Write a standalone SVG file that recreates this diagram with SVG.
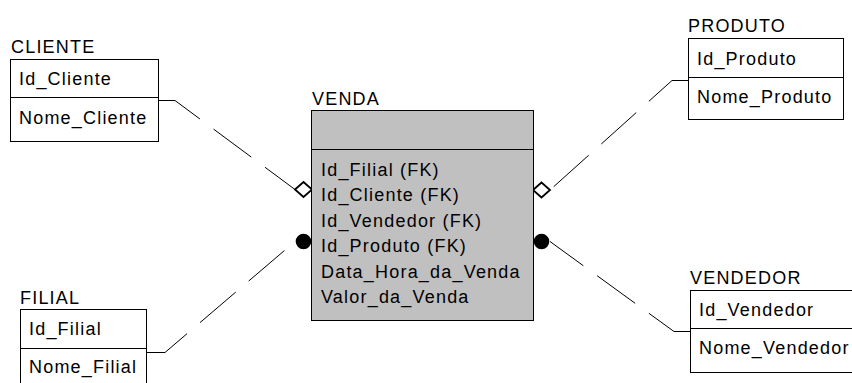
<svg xmlns="http://www.w3.org/2000/svg" xmlns:xlink="http://www.w3.org/1999/xlink" width="852" height="383" viewBox="0 0 852 383">
  <style>
    text { font-family: "Liberation Sans", Arial, sans-serif; font-size: 18px; letter-spacing: 1.2px; fill: #000; }
    .box { fill: #fff; stroke: #000; stroke-width: 1; }
    .box.dep { fill: #c0c0c0; }
    .sep { stroke: #000; stroke-width: 1; fill: none; }
    .rel { fill: none; stroke: #000; stroke-width: 1; stroke-dasharray: 47 17; }
    .open { fill: #fff; stroke: #000; stroke-width: 1.8; }
    .solid { fill: #000; stroke: none; }
  </style>
  <defs>
    <path id="diamond" d="M-8.5,0 L0,-7.5 L8.5,0 L0,7.5 Z"/>
    <circle id="dot" r="7.8"/>
  </defs>
  <rect width="852" height="383" fill="#fff"/>

  <!-- relationship lines -->
  <g id="connectors">
    <path class="rel" d="M159,100.5 H175 L295,189.5"/>
    <path class="rel" d="M688,80.5 H672 L550,190"/>
    <path class="rel" d="M147,352.5 H165 L295,241.5"/>
    <path class="rel" d="M690,331.5 H674 L550,241.5"/>
    <use href="#diamond" xlink:href="#diamond" class="open" x="303.5" y="189.5"/>
    <use href="#diamond" xlink:href="#diamond" class="open" x="541.5" y="190"/>
    <use href="#dot" xlink:href="#dot" class="solid" x="303.5" y="241.5"/>
    <use href="#dot" xlink:href="#dot" class="solid" x="541.5" y="241.5"/>
  </g>

  <g id="cliente">
    <text x="11" y="53">CLIENTE</text>
    <rect class="box" x="10.5" y="59.5" width="148" height="82"/>
    <line class="sep" x1="10.5" y1="97.5" x2="158.5" y2="97.5"/>
    <text x="19" y="85">Id_Cliente</text>
    <text x="19" y="124">Nome_Cliente</text>
  </g>

  <g id="venda">
    <text x="312" y="104.5">VENDA</text>
    <rect class="box dep" x="311.5" y="110.5" width="222" height="210"/>
    <line class="sep" x1="311.5" y1="149.5" x2="533.5" y2="149.5"/>
    <text x="321" y="176">Id_Filial (FK)</text>
    <text x="321" y="201.4">Id_Cliente (FK)</text>
    <text x="321" y="226.8">Id_Vendedor (FK)</text>
    <text x="321" y="252.2">Id_Produto (FK)</text>
    <text x="321" y="277.6">Data_Hora_da_Venda</text>
    <text x="321" y="303">Valor_da_Venda</text>
  </g>

  <g id="produto">
    <text x="688" y="32">PRODUTO</text>
    <rect class="box" x="688.5" y="38.5" width="155" height="81"/>
    <line class="sep" x1="688.5" y1="77.5" x2="843.5" y2="77.5"/>
    <text x="697" y="64.5">Id_Produto</text>
    <text x="697" y="102.5">Nome_Produto</text>
  </g>

  <g id="filial">
    <text x="20" y="304">FILIAL</text>
    <rect class="box" x="20.5" y="309.5" width="126" height="100"/>
    <line class="sep" x1="20.5" y1="348.5" x2="146.5" y2="348.5"/>
    <text x="29" y="335">Id_Filial</text>
    <text x="29" y="373">Nome_Filial</text>
  </g>

  <g id="vendedor">
    <text x="690" y="284">VENDEDOR</text>
    <rect class="box" x="690.5" y="290.5" width="200" height="82"/>
    <line class="sep" x1="690.5" y1="328.5" x2="852" y2="328.5"/>
    <text x="699" y="316">Id_Vendedor</text>
    <text x="699" y="354">Nome_Vendedor</text>
  </g>
</svg>
